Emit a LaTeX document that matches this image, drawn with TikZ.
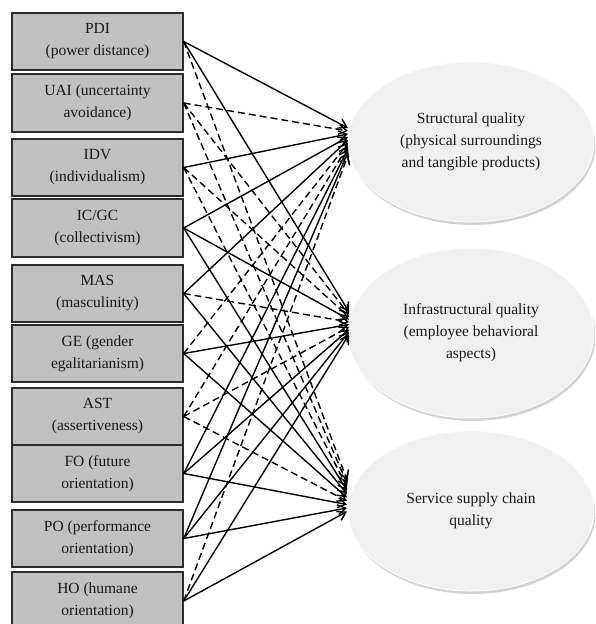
\documentclass[tikz,border=0pt]{standalone}
\usepackage{fontspec}
\setmainfont{Liberation Serif}
\usetikzlibrary{arrows.meta,shapes.geometric,shadows}
\definecolor{boxgray}{RGB}{192,192,192}
\definecolor{boxline}{RGB}{45,45,45}
\definecolor{ellfill}{RGB}{240,240,240}
\definecolor{ellline}{RGB}{252,252,252}
\definecolor{inkgray}{RGB}{25,25,25}
\begin{document}
\begin{tikzpicture}[x=1pt,y=-1pt,
  factor/.style={draw=boxline, line width=1.4pt, fill=boxgray, minimum width=171pt,
    inner sep=0pt, align=center, text=inkgray, font=\fontsize{15.5}{22}\selectfont},
  quality/.style={ellipse, fill=ellfill, draw=ellline, line width=1pt, minimum width=246pt,
    inner sep=0pt, align=center, text=inkgray, font=\fontsize{15.5}{22}\selectfont,
    drop shadow={shadow xshift=1.5pt, shadow yshift=-3pt, opacity=0.35}},
  link/.style={-{Straight Barb[length=8pt,width=10pt]}, line width=1.4pt},
  dlink/.style={link, dash pattern=on 7pt off 4pt}]
\useasboundingbox (0,0) rectangle (595,624);

% factor boxes
\node[factor, minimum height=57pt] (pdi)  at (97.5,41.5)  {PDI\\(power distance)};
\node[factor, minimum height=58pt] (uai)  at (97.5,103)   {UAI (uncertainty\\avoidance)};
\node[factor, minimum height=57pt] (idv)  at (97.5,167.5) {IDV\\(individualism)};
\node[factor, minimum height=58pt] (icgc) at (97.5,228)   {IC/GC\\(collectivism)};
\node[factor, minimum height=57pt] (mas)  at (97.5,293.5) {MAS\\(masculinity)};
\node[factor, minimum height=57pt] (ge)   at (97.5,353.5) {GE (gender\\egalitarianism)};
\node[factor, minimum height=57pt] (ast)  at (97.5,416.5) {AST\\(assertiveness)};
\node[factor, minimum height=57pt] (fo)   at (97.5,473.5) {FO (future\\orientation)};
\node[factor, minimum height=57pt] (po)   at (97.5,538.5) {PO (performance\\orientation)};
\node[factor, minimum height=58pt] (ho)   at (97.5,601)   {HO (humane\\orientation)};

% quality ellipses
\node[quality, minimum height=160pt] (sq) at (471,142) {Structural quality\\(physical surroundings\\and tangible products)};
\node[quality, minimum height=170pt] (iq) at (471,333) {Infrastructural quality\\(employee behavioral\\aspects)};
\node[quality, minimum height=160pt] (cq) at (471,511) {Service supply chain\\quality};

% arrow tips
\foreach \i in {0,...,9} {
  \coordinate (a\i) at (348,128+3*\i);
  \coordinate (b\i) at (349,312+2.5*\i);
  \coordinate (c\i) at (347,480+3.5*\i);
}

% connectors
\draw[link]  (pdi.east) -- (a0);
\draw[link]  (pdi.east) -- (b0);
\draw[dlink] (pdi.east) -- (c0);

\draw[dlink] (uai.east) -- (a1);
\draw[dlink] (uai.east) -- (b1);
\draw[dlink] (uai.east) -- (c1);

\draw[link]  (idv.east) -- (a2);
\draw[dlink] (idv.east) -- (b2);
\draw[dlink] (idv.east) -- (c2);

\draw[link]  (icgc.east) -- (a3);
\draw[link]  (icgc.east) -- (b3);
\draw[link]  (icgc.east) -- (c3);

\draw[link]  (mas.east) -- (a4);
\draw[dlink] (mas.east) -- (b4);
\draw[link]  (mas.east) -- (c4);

\draw[dlink] (ge.east) -- (a5);
\draw[link]  (ge.east) -- (b5);
\draw[link]  (ge.east) -- (c5);

\draw[dlink] (ast.east) -- (a6);
\draw[dlink] (ast.east) -- (b6);
\draw[dlink] (ast.east) -- (c6);

\draw[link]  (fo.east) -- (a7);
\draw[link]  (fo.east) -- (b7);
\draw[link]  (fo.east) -- (c7);

\draw[link]  (po.east) -- (a8);
\draw[link]  (po.east) -- (b8);
\draw[link]  (po.east) -- (c8);

\draw[dlink] (ho.east) -- (a9);
\draw[link]  (ho.east) -- (b9);
\draw[link]  (ho.east) -- (c9);
\end{tikzpicture}
\end{document}
